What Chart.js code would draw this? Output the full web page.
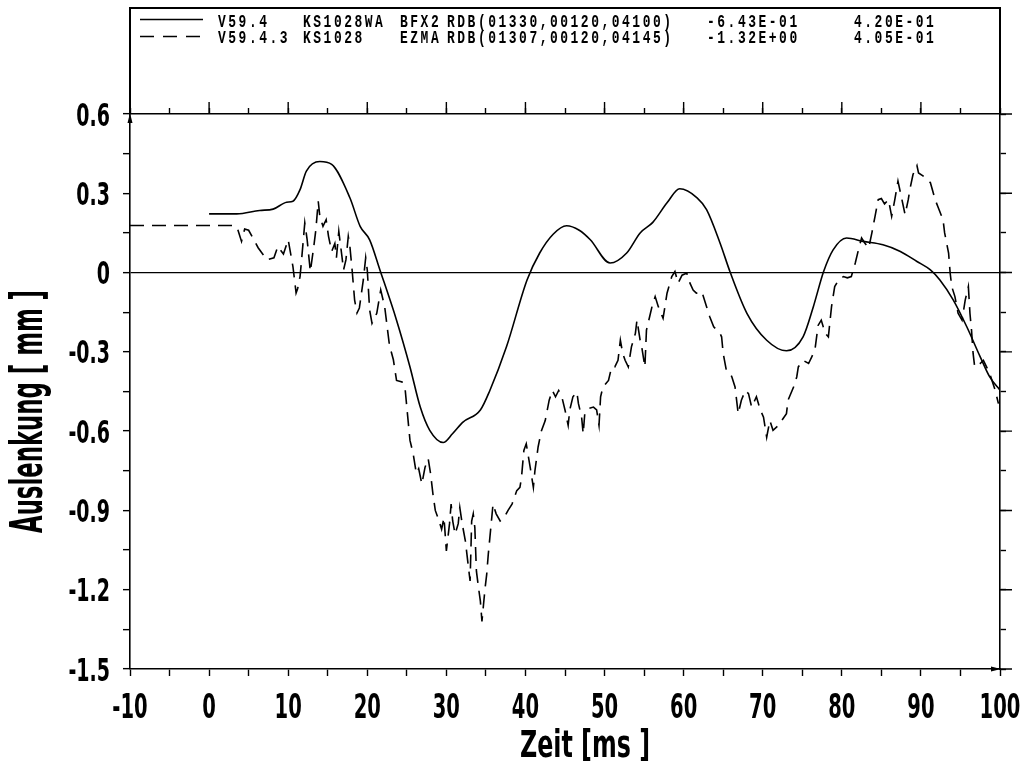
<!DOCTYPE html>
<html><head><meta charset="utf-8">
<script src="https://cdn.jsdelivr.net/npm/chart.js@4.4.1/dist/chart.umd.min.js"></script>
<style>html,body{margin:0;padding:0;background:#fff;}#wrap{width:1028px;height:763px;}</style>
</head><body><div id="wrap"><canvas id="c" width="1028" height="763"></canvas></div>
<script>
// ---- data ----
const xRange = [-10, 100];
const yRange = [-1.5, 0.6];
const xTickValues = [-10, 0, 10, 20, 30, 40, 50, 60, 70, 80, 90, 100];
const yTickValues = [0.6, 0.3, 0, -0.3, -0.6, -0.9, -1.2, -1.5];
const seriesNames = ['V59.4', 'V59.4.3'];
const legendRow1 = ['V59.4', 'KS1028WA', 'BFX2', 'RDB(01330,00120,04100)', '-6.43E-01', '4.20E-01'];
const legendRow2 = ['V59.4.3', 'KS1028', 'EZMA', 'RDB(01307,00120,04145)', '-1.32E+00', '4.05E-01'];
const xTitle = 'Zeit [ms ]';
const yTitle = 'Auslenkung [ mm ]';

const solidSeries = [
 [0,0.222],[3.5,0.222],[6.4,0.235],[8.1,0.24],[9.8,0.266],[10.6,0.27],[11.5,0.314],[12.3,0.384],[14,0.42],[15.5,0.409],
 [17.8,0.283],[19.1,0.175],[20.3,0.124],[21.6,0.01],[23.7,-0.18],[25.4,-0.357],[26.7,-0.509],[27.9,-0.597],[29.6,-0.643],[30.8,-0.609],
 [32.1,-0.566],[34.3,-0.52],[35.5,-0.446],[37.6,-0.281],[40.2,-0.028],[41.8,0.074],[43.5,0.145],[45.2,0.177],[46.8,0.16],[48.2,0.124],
 [50.7,0.036],[52.8,0.074],[54.5,0.15],[56.1,0.19],[57.9,0.264],[59.5,0.317],[61.7,0.283],[62.9,0.238],[64.6,0.112],[65.9,0],
 [68,-0.154],[70.5,-0.256],[73,-0.296],[75.1,-0.243],[76.4,-0.129],[77.7,0.004],[78.9,0.086],[80.6,0.131],[82.7,0.118],[85.2,0.105],
 [87.4,0.08],[89.5,0.042],[91.2,0.01],[92.4,-0.028],[94.1,-0.104],[95.8,-0.205],[97.5,-0.319],[98.7,-0.395],[100,-0.445]
];

const dashedSeries = [
 [-10,0.178],[3.2,0.178],[3.6,0.165],[4.1,0.118],[4.5,0.165],[5.0,0.16],[5.6,0.128],[6.2,0.094],[7.3,0.048],[8.2,0.056],
 [8.7,0.099],[9.4,0.07],[10.0,0.124],[10.6,0.023],[11.0,-0.077],[11.2,-0.06],[11.5,-0.015],[11.7,0.05],[12.1,0.188],[12.4,0.124],
 [12.8,0.004],[13.2,0.09],[13.5,0.162],[13.8,0.27],[14.0,0.213],[14.4,0.175],[14.8,0.2],[15.1,0.137],[15.5,0.08],[15.9,0.11],
 [16.1,0.056],[16.4,0.156],[16.8,0.06],[17.0,0.01],[17.3,0.048],[17.6,0.137],[17.8,0.1],[18.1,0.004],[18.4,-0.104],[18.7,-0.153],
 [19.0,-0.134],[19.5,-0.028],[19.8,0.056],[20.0,0.01],[20.3,-0.142],[20.6,-0.192],[21.2,-0.154],[21.7,-0.066],[22.2,-0.129],[22.8,-0.274],
 [23.3,-0.33],[23.7,-0.408],[24.4,-0.414],[24.8,-0.445],[25.0,-0.509],[25.4,-0.635],[25.8,-0.685],[26.2,-0.76],[26.5,-0.742],[26.9,-0.8],
 [27.3,-0.737],[27.7,-0.704],[28.0,-0.76],[28.3,-0.837],[28.6,-0.9],[29.0,-0.933],[29.4,-0.971],[29.7,-0.927],[30.0,-1.053],[30.4,-0.95],
 [30.6,-0.876],[30.8,-0.94],[31.1,-0.99],[31.5,-0.95],[31.7,-0.889],[32.0,-0.95],[32.4,-1.015],[32.8,-1.117],[33.0,-1.167],[33.2,-0.94],
 [33.4,-0.913],[33.6,-0.965],[33.8,-1.13],[34.1,-1.2],[34.3,-1.243],[34.5,-1.32],[34.7,-1.255],[34.9,-1.193],[35.1,-1.142],[35.3,-1.066],
 [35.5,-1.003],[35.7,-0.94],[35.9,-0.876],[36.3,-0.913],[36.8,-0.94],[37.3,-0.927],[37.8,-0.9],[38.3,-0.876],[38.9,-0.825],[39.3,-0.813],
 [39.5,-0.775],[39.8,-0.673],[40.1,-0.648],[40.6,-0.737],[41.0,-0.813],[41.2,-0.749],[41.6,-0.66],[42.0,-0.6],[42.5,-0.56],[43.0,-0.483],
 [43.4,-0.446],[43.8,-0.47],[44.2,-0.446],[44.6,-0.47],[45.0,-0.52],[45.4,-0.578],[45.6,-0.52],[46.0,-0.47],[46.5,-0.452],[46.7,-0.496],
 [47.1,-0.547],[47.3,-0.61],[47.5,-0.534],[47.9,-0.515],[48.6,-0.509],[49.0,-0.52],[49.3,-0.578],[49.5,-0.47],[49.8,-0.433],[50.5,-0.408],
 [50.9,-0.357],[51.3,-0.357],[51.7,-0.332],[52.0,-0.256],[52.3,-0.306],[52.6,-0.332],[53.0,-0.357],[53.2,-0.319],[53.4,-0.281],[53.9,-0.23],
 [54.1,-0.18],[54.3,-0.218],[54.5,-0.256],[54.7,-0.281],[55.1,-0.357],[55.3,-0.218],[55.7,-0.167],[56.0,-0.129],[56.4,-0.091],[56.8,-0.129],
 [57.4,-0.173],[57.9,-0.078],[58.5,-0.015],[58.9,0.004],[59.3,-0.04],[59.8,-0.01],[60.4,-0.002],[60.8,-0.04],[61.2,-0.066],[61.6,-0.078],
 [62.3,-0.072],[62.9,-0.129],[63.3,-0.167],[63.8,-0.205],[64.6,-0.23],[64.8,-0.243],[65.0,-0.306],[65.4,-0.37],[65.9,-0.382],[66.1,-0.395],
 [66.5,-0.433],[66.9,-0.534],[67.3,-0.483],[67.8,-0.446],[68.2,-0.458],[68.6,-0.509],[69.0,-0.483],[69.2,-0.47],[69.7,-0.52],[70.1,-0.547],
 [70.5,-0.623],[70.9,-0.56],[71.3,-0.597],[72.0,-0.578],[72.4,-0.56],[73.0,-0.534],[73.2,-0.483],[73.9,-0.433],[74.3,-0.395],[74.5,-0.357],
 [75.1,-0.332],[75.8,-0.344],[76.2,-0.319],[76.6,-0.293],[77.0,-0.2],[77.4,-0.18],[77.9,-0.23],[78.3,-0.243],[78.7,-0.129],[79.1,-0.053],
 [79.6,-0.028],[80.2,-0.015],[80.7,-0.02],[81.2,-0.015],[81.7,0.036],[82.1,0.086],[82.5,0.131],[82.9,0.112],[83.4,0.093],[83.8,0.15],
 [84.2,0.213],[84.6,0.276],[85.0,0.28],[85.4,0.26],[85.9,0.276],[86.3,0.213],[86.7,0.276],[87.1,0.346],[87.6,0.276],[88.0,0.219],
 [88.4,0.276],[88.6,0.314],[89.0,0.371],[89.5,0.405],[89.7,0.377],[90.3,0.365],[91.2,0.34],[91.8,0.276],[92.2,0.245],[92.8,0.2],
 [93.0,0.15],[93.5,0.074],[93.7,-0.002],[93.9,-0.053],[94.3,-0.091],[94.7,-0.154],[95.2,-0.18],[95.6,-0.104],[96.0,-0.053],[96.2,-0.154],
 [96.4,-0.218],[96.6,-0.306],[96.8,-0.357],[97.5,-0.344],[97.9,-0.332],[98.3,-0.357],[98.7,-0.382],[99.4,-0.446],[99.8,-0.496]
];

// ---- styling ----
const COND = '"DejaVu Sans Condensed", "DejaVu Sans", sans-serif';
const MONO = '"Liberation Mono", "DejaVu Sans Mono", monospace';

// draw text squeezed horizontally by factor sx (plotter-like narrow lettering)
function narrowText(ctx, text, x, y, sx, align, rot, spacing) {
  ctx.save();
  ctx.translate(x, y);
  if (rot) ctx.rotate(rot);
  ctx.scale(sx, 1);
  ctx.textAlign = align;
  ctx.textBaseline = 'alphabetic';
  if (spacing && 'letterSpacing' in ctx) ctx.letterSpacing = spacing;
  ctx.fillText(text, 0, 0);
  ctx.restore();
}

const labelPlugin = {
  id: 'labels',
  afterDraw(chart) {
    const ctx = chart.ctx, a = chart.chartArea;
    const sx = chart.scales.x, sy = chart.scales.y;
    ctx.save();
    ctx.fillStyle = '#000';
    ctx.strokeStyle = '#000';
    // frame around the legend block above the plot
    ctx.lineWidth = 2;
    ctx.beginPath();
    ctx.moveTo(a.left, a.top); ctx.lineTo(a.left, 8); ctx.lineTo(a.right, 8); ctx.lineTo(a.right, a.top);
    ctx.stroke();
    // longer major ticks on the top and right axes
    ctx.lineWidth = 1.4;
    ctx.beginPath();
    xTickValues.forEach(v => { const p = sx.getPixelForValue(v); ctx.moveTo(p, a.top); ctx.lineTo(p, a.top - 12); });
    yTickValues.forEach(v => { const p = sy.getPixelForValue(v); ctx.moveTo(a.right, p); ctx.lineTo(a.right + 12, p); });
    ctx.stroke();
    // legend line samples
    ctx.beginPath(); ctx.moveTo(140, 19.5); ctx.lineTo(203, 19.5); ctx.stroke();
    ctx.setLineDash([14, 9]);
    ctx.beginPath(); ctx.moveTo(140, 36.5); ctx.lineTo(203, 36.5); ctx.stroke();
    ctx.setLineDash([]);
    // legend text (narrow monospaced plotter lettering, pitch about 10.3 px)
    ctx.font = 'bold 18px ' + MONO;
    const col1 = [218, 303, 400, 447, 707, 854];
    const col2 = [218, 303, 400, 447, 707, 854];
    legendRow1.forEach((t, i) => narrowText(ctx, t, col1[i], 26.5, 0.72, 'left', 0, '3.5px'));
    legendRow2.forEach((t, i) => narrowText(ctx, t, col2[i], 43, 0.72, 'left', 0, '3.5px'));
    // tick labels
    ctx.font = 'bold 34px ' + COND;
    xTickValues.forEach(v => narrowText(ctx, String(v), sx.getPixelForValue(v), 718, 0.64, 'center'));
    ctx.font = 'bold 32px ' + COND;
    yTickValues.forEach(v => {
      const t = Math.abs(v) < 1e-9 ? '0' : v.toFixed(1);
      narrowText(ctx, t, 110, sy.getPixelForValue(v) + 11.5, 0.66, 'right');
    });
    // axis titles, squeezed to the reference's lengths
    ctx.font = 'bold 37px ' + COND;
    let w = ctx.measureText(xTitle).width;
    narrowText(ctx, xTitle, (a.left + a.right) / 2 + 20, 757, 130 / w, 'center');
    ctx.font = 'bold 44px ' + COND;
    w = ctx.measureText(yTitle).width;
    narrowText(ctx, yTitle, 42, (a.top + a.bottom) / 2 + 20, 243 / w, 'center', -Math.PI / 2);
    // arrow heads on the axes
    ctx.beginPath();
    ctx.moveTo(a.left, a.top - 1); ctx.lineTo(a.left - 2.5, a.top + 9); ctx.lineTo(a.left + 2.5, a.top + 9); ctx.closePath(); ctx.fill();
    ctx.beginPath();
    ctx.moveTo(a.right + 1, a.bottom); ctx.lineTo(a.right - 9, a.bottom - 2.5); ctx.lineTo(a.right - 9, a.bottom + 2.5); ctx.closePath(); ctx.fill();
    ctx.restore();
  }
};

const gridOuter = {drawOnChartArea: false, tickLength: 6, tickColor: '#000', tickWidth: 1.4};
const gridInner = {drawOnChartArea: false, tickLength: 7, tickColor: '#000', tickWidth: 1.4};
const borderCommon = {display: true, color: '#000', width: 1.6};

new Chart(document.getElementById('c'), {
  type: 'line',
  data: {
    datasets: [
      {label: seriesNames[0], data: solidSeries.map(p => ({x: p[0], y: p[1]})),
       borderColor: '#000', borderWidth: 1.6, pointRadius: 0, cubicInterpolationMode: 'monotone', fill: false},
      {label: seriesNames[1], data: dashedSeries.map(p => ({x: p[0], y: p[1]})),
       borderColor: '#000', borderWidth: 1.6, borderDash: [14, 8], pointRadius: 0, tension: 0, fill: false}
    ]
  },
  options: {
    responsive: false, animation: false, devicePixelRatio: 1,
    layout: {padding: 0},
    plugins: {legend: {display: false}, tooltip: {enabled: false}},
    scales: {
      x: {
        type: 'linear', position: 'bottom', min: xRange[0], max: xRange[1],
        ticks: {stepSize: 5, autoSkip: false, display: false},
        grid: gridInner, border: borderCommon,
        afterFit: s => { s.height = 94; }
      },
      x2: {
        type: 'linear', position: 'top', min: xRange[0], max: xRange[1],
        ticks: {stepSize: 5, autoSkip: false, display: false},
        grid: gridOuter, border: borderCommon,
        afterFit: s => { s.height = 114; }
      },
      y: {
        type: 'linear', position: 'left', min: yRange[0], max: yRange[1],
        ticks: {stepSize: 0.15, autoSkip: false, display: false},
        grid: {drawOnChartArea: true, tickLength: 7, tickColor: '#000', tickWidth: 1.4, lineWidth: 1.3,
               color: c => (c.tick && Math.abs(c.tick.value) < 1e-9) ? '#000' : 'rgba(0,0,0,0)'},
        border: borderCommon,
        afterFit: s => { s.width = 130; }
      },
      y2: {
        type: 'linear', position: 'right', min: yRange[0], max: yRange[1],
        ticks: {stepSize: 0.15, autoSkip: false, display: false},
        grid: gridOuter, border: borderCommon,
        afterFit: s => { s.width = 28; }
      }
    }
  },
  plugins: [labelPlugin]
});
</script>
</body></html>
